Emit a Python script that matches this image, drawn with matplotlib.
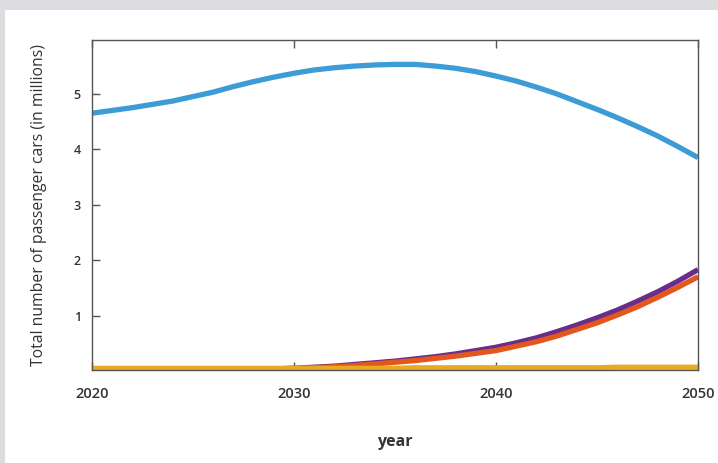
import numpy as np
import matplotlib.pyplot as plt
from matplotlib.patches import Rectangle

plt.rcParams['font.family'] = ['Open Sans', 'DejaVu Sans']

years = list(range(2020, 2051))
blue = [4.65, 4.70, 4.75, 4.81, 4.87, 4.95, 5.03, 5.13, 5.22, 5.30,
        5.37, 5.43, 5.47, 5.50, 5.52, 5.53, 5.53, 5.50, 5.46, 5.40,
        5.32, 5.23, 5.12, 5.00, 4.86, 4.72, 4.57, 4.41, 4.24, 4.05, 3.85]
purple = [0.02, 0.02, 0.02, 0.03, 0.03, 0.03, 0.03, 0.04, 0.04, 0.04,
          0.05, 0.07, 0.09, 0.12, 0.15, 0.18, 0.22, 0.26, 0.31, 0.37,
          0.43, 0.51, 0.60, 0.71, 0.83, 0.96, 1.10, 1.26, 1.43, 1.62, 1.83]
orange = [0.02, 0.02, 0.02, 0.03, 0.03, 0.03, 0.03, 0.04, 0.04, 0.04,
          0.05, 0.06, 0.08, 0.10, 0.13, 0.16, 0.19, 0.23, 0.27, 0.32,
          0.37, 0.45, 0.53, 0.63, 0.75, 0.87, 1.01, 1.16, 1.33, 1.51, 1.70]
yellow = [0.05, 0.05, 0.05, 0.05, 0.05, 0.05, 0.05, 0.05, 0.05, 0.05,
          0.05, 0.05, 0.05, 0.05, 0.05, 0.05, 0.06, 0.06, 0.06, 0.06,
          0.06, 0.06, 0.06, 0.06, 0.06, 0.06, 0.07, 0.07, 0.07, 0.07, 0.07]

x_ticks = [2020, 2030, 2040, 2050]
y_ticks = [1, 2, 3, 4, 5]

fig = plt.figure(figsize=(7.18, 4.63), dpi=100)
fig.patch.set_facecolor('#dcdde0')
# white panel inside the grey frame
fig.patches.append(Rectangle((5 / 718, 0), 1, 1 - 10 / 463, transform=fig.transFigure,
                             facecolor='white', edgecolor='none', zorder=-1))

ax = fig.add_axes([92 / 718, 93 / 463, 606 / 718, 330 / 463])
ax.set_facecolor('white')

lw = 3.8
ax.plot(years, blue, color='#3b9cd6', lw=lw, solid_capstyle='butt')
ax.plot(years, purple, color='#6b2d8c', lw=lw, solid_capstyle='butt')
ax.plot(years, orange, color='#e2571c', lw=lw, solid_capstyle='butt')
ax.plot(years, yellow, color='#e9aa1f', lw=lw, solid_capstyle='butt')

ax.set_xlim(2020, 2050)
ax.set_ylim(0.02, 5.97)
ax.set_xticks(x_ticks)
ax.set_yticks(y_ticks)

for s in ax.spines.values():
    s.set_color('#555555')
    s.set_linewidth(1.0)

ax.tick_params(axis='x', direction='in', top=True, length=6, width=1, color='#555555',
               pad=12, labelsize=10.5, labelcolor='#333333')
ax.tick_params(axis='y', direction='in', length=6, width=1, color='#555555',
               pad=8, labelsize=9, labelcolor='#333333')
for lab in ax.get_xticklabels() + ax.get_yticklabels():
    lab.set_fontweight('semibold')

ax.set_ylabel('Total number of passenger cars (in millions)', fontsize=11.3, color='#333333', labelpad=19)
ax.set_xlabel('year', fontsize=11.5, fontweight='bold', color='#333333', labelpad=24)

fig.savefig('out.png', dpi=100, facecolor=fig.get_facecolor())
